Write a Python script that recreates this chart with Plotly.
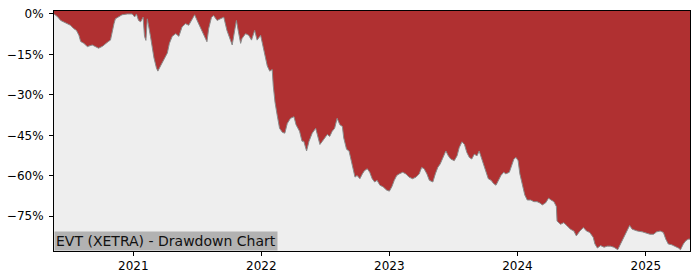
import plotly.graph_objects as go

dates = [
    "2020-05-20", "2020-05-30", "2020-06-08", "2020-06-17", "2020-06-27", "2020-07-06", "2020-07-15", "2020-07-23",
    "2020-07-30", "2020-08-04", "2020-08-13", "2020-08-23", "2020-09-06", "2020-09-15", "2020-09-24", "2020-10-05",
    "2020-10-14", "2020-10-22", "2020-10-28", "2020-11-02", "2020-11-07", "2020-11-11", "2020-11-20", "2020-11-30",
    "2020-12-15", "2020-12-29", "2021-01-05", "2021-01-10", "2021-01-16", "2021-01-22", "2021-01-29", "2021-02-02",
    "2021-02-06", "2021-02-10", "2021-02-19", "2021-02-24", "2021-03-01", "2021-03-08", "2021-03-12", "2021-03-20",
    "2021-03-28", "2021-04-08", "2021-04-14", "2021-04-22", "2021-05-02", "2021-05-11", "2021-05-20", "2021-05-30",
    "2021-06-08", "2021-06-18", "2021-06-25", "2021-07-02", "2021-07-11", "2021-07-21", "2021-07-30", "2021-08-04",
    "2021-08-12", "2021-08-18", "2021-08-28", "2021-09-06", "2021-09-16", "2021-09-25", "2021-10-05", "2021-10-10",
    "2021-10-17", "2021-10-22", "2021-10-27", "2021-11-03", "2021-11-07", "2021-11-17", "2021-11-26", "2021-12-04",
    "2021-12-13", "2021-12-20", "2021-12-30", "2022-01-05", "2022-01-11", "2022-01-18", "2022-01-25", "2022-02-01",
    "2022-02-04", "2022-02-09", "2022-02-15", "2022-02-22", "2022-03-02", "2022-03-09", "2022-03-16", "2022-03-25",
    "2022-04-04", "2022-04-10", "2022-04-20", "2022-04-27", "2022-05-02", "2022-05-10", "2022-05-17", "2022-05-26",
    "2022-06-05", "2022-06-10", "2022-06-17", "2022-06-24", "2022-06-30", "2022-07-08", "2022-07-15", "2022-07-22",
    "2022-07-29", "2022-08-05", "2022-08-13", "2022-08-20", "2022-08-24", "2022-09-01", "2022-09-08", "2022-09-12",
    "2022-09-19", "2022-09-25", "2022-10-01", "2022-10-09", "2022-10-16", "2022-10-22", "2022-10-30", "2022-11-06",
    "2022-11-13", "2022-11-20", "2022-11-27", "2022-12-05", "2022-12-14", "2022-12-24", "2023-01-01", "2023-01-08",
    "2023-01-15", "2023-01-22", "2023-01-29", "2023-02-08", "2023-02-17", "2023-02-26", "2023-03-08", "2023-03-18",
    "2023-03-27", "2023-04-03", "2023-04-10", "2023-04-18", "2023-04-25", "2023-05-05", "2023-05-12", "2023-05-19",
    "2023-05-26", "2023-06-05", "2023-06-11", "2023-06-18", "2023-06-25", "2023-07-05", "2023-07-13", "2023-07-19",
    "2023-07-27", "2023-08-03", "2023-08-10", "2023-08-17", "2023-08-24", "2023-08-31", "2023-09-08", "2023-09-14",
    "2023-09-21", "2023-09-27", "2023-10-04", "2023-10-10", "2023-10-18", "2023-10-25", "2023-11-01", "2023-11-09",
    "2023-11-15", "2023-11-23", "2023-11-29", "2023-12-09", "2023-12-16", "2023-12-22", "2023-12-28", "2024-01-03",
    "2024-01-08", "2024-01-15", "2024-01-22", "2024-01-29", "2024-02-08", "2024-02-17", "2024-02-26", "2024-03-05",
    "2024-03-12", "2024-03-21", "2024-03-30", "2024-04-06", "2024-04-14", "2024-04-21", "2024-04-23", "2024-05-03",
    "2024-05-12", "2024-05-22", "2024-05-31", "2024-06-10", "2024-06-17", "2024-06-27", "2024-07-07", "2024-07-16",
    "2024-07-25", "2024-08-04", "2024-08-09", "2024-08-16", "2024-08-25", "2024-09-04", "2024-09-13", "2024-09-22",
    "2024-10-02", "2024-10-13", "2024-10-21", "2024-10-30", "2024-11-09", "2024-11-16", "2024-11-23", "2024-12-08",
    "2024-12-22", "2025-01-04", "2025-01-13", "2025-01-23", "2025-02-01", "2025-02-11", "2025-02-20", "2025-02-27",
    "2025-03-06", "2025-03-16", "2025-03-25", "2025-04-04", "2025-04-10", "2025-04-18", "2025-04-25", "2025-05-02",
    "2025-05-07",
]

drawdown = [
    0.0, -1.0, -2.4, -2.9, -3.6, -4.2, -5.4, -6.1,
    -7.9, -10.2, -10.9, -12.1, -11.5, -12.0, -12.7, -12.0,
    -10.9, -10.2, -9.7, -6.1, -3.6, -1.8, -1.0, -0.3,
    0.0, 0.0, -1.1, 0.0, -2.4, -2.9, -1.2, -8.3,
    -9.8, -1.8, -8.3, -13.3, -16.3, -20.0, -21.2, -19.2,
    -17.4, -14.5, -10.9, -8.3, -7.3, -8.3, -4.8, -3.6,
    -4.2, -1.8, -0.3, -2.4, -4.8, -7.9, -10.3, -5.4,
    -1.2, -0.6, -2.4, -1.8, -1.2, -6.1, -9.7, -11.5,
    -6.1, -2.4, -6.1, -10.9, -9.1, -7.3, -7.9, -9.7,
    -6.1, -9.7, -7.9, -11.5, -15.7, -19.3, -21.2, -20.6,
    -26.6, -32.7, -37.4, -42.4, -43.9, -44.2, -40.6, -38.7,
    -38.1, -41.1, -43.5, -47.2, -47.2, -50.8, -47.2, -44.2,
    -42.4, -44.7, -48.4, -47.2, -46.0, -44.7, -45.4, -43.5,
    -42.4, -38.7, -41.1, -41.7, -46.0, -50.2, -50.8, -53.2,
    -58.1, -60.5, -59.9, -61.1, -59.3, -58.1, -57.4, -58.7,
    -61.1, -62.3, -61.7, -63.5, -64.1, -65.3, -65.7, -64.1,
    -61.7, -59.9, -59.3, -58.7, -59.3, -60.5, -61.1, -60.5,
    -59.3, -56.9, -57.4, -59.3, -61.7, -62.3, -59.3, -56.9,
    -55.6, -52.6, -50.8, -52.6, -53.8, -54.4, -52.6, -49.6,
    -47.4, -48.4, -51.4, -53.2, -53.8, -52.0, -52.6, -50.8,
    -53.8, -56.2, -59.3, -61.1, -61.7, -62.9, -63.5, -61.7,
    -59.9, -58.7, -59.3, -58.7, -55.6, -53.8, -53.2, -54.4,
    -59.3, -62.9, -67.1, -69.0, -69.0, -69.6, -69.6, -70.1,
    -70.8, -70.1, -68.3, -69.0, -69.6, -71.4, -76.8, -78.0,
    -77.4, -78.6, -79.8, -80.5, -82.3, -80.5, -79.2, -80.5,
    -81.0, -82.8, -85.3, -86.8, -85.9, -86.5, -86.1, -86.1,
    -86.5, -87.4, -85.3, -82.8, -80.5, -78.4, -79.8, -80.5,
    -80.8, -81.3, -81.7, -81.7, -80.8, -80.5, -81.0, -83.5,
    -85.3, -85.6, -86.1, -86.8, -87.4, -85.3, -84.1, -83.5,
    -83.5,
]

y_tick_vals = [0, -15, -30, -45, -60, -75]
y_tick_text = ["0%", "\u221215%", "\u221230%", "\u221245%", "\u221260%", "\u221275%"]
x_tick_vals = ["2021-01-01", "2022-01-01", "2023-01-01", "2024-01-01", "2025-01-01"]
x_tick_text = ["2021", "2022", "2023", "2024", "2025"]
y_range = [-87.9, 1.1]
title_text = "EVT (XETRA) - Drawdown Chart"

RED = "#b03031"
FONT = "DejaVu Sans"

fig = go.Figure()
fig.add_trace(go.Scatter(
    x=dates, y=[y_range[1]] * len(dates), mode="lines",
    line=dict(width=0, color=RED), hoverinfo="skip", showlegend=False,
))
fig.add_trace(go.Scatter(
    x=dates, y=drawdown, mode="lines", fill="tonexty", fillcolor=RED,
    line=dict(width=1, color="#8a8a8a"), showlegend=False,
))

fig.update_layout(
    width=700, height=280,
    margin=dict(l=53, r=10, t=7, b=28),
    paper_bgcolor="white", plot_bgcolor="#eeeeee",
    font=dict(family=FONT, size=12, color="black"),
    xaxis=dict(
        range=[dates[0], dates[-1]], tickvals=x_tick_vals, ticktext=x_tick_text,
        showgrid=False, zeroline=False, showline=True, mirror=True,
        linecolor="black", linewidth=1, ticks="outside", ticklen=4, tickcolor="black",
        tickfont=dict(family=FONT, size=12),
    ),
    yaxis=dict(
        range=y_range, tickvals=y_tick_vals, ticktext=y_tick_text,
        showgrid=False, zeroline=False, showline=True, mirror=True,
        linecolor="black", linewidth=1, ticks="outside", ticklen=4, tickcolor="black",
        tickfont=dict(family=FONT, size=12), ticklabelstandoff=3,
    ),
    annotations=[dict(
        text=title_text, xref="paper", yref="paper", x=0, y=0,
        xanchor="left", yanchor="bottom", showarrow=False,
        bgcolor="#b2b2b2", borderpad=1,
        font=dict(family=FONT, size=14, color="#111111"),
    )],
)

fig.write_html("out.html")
